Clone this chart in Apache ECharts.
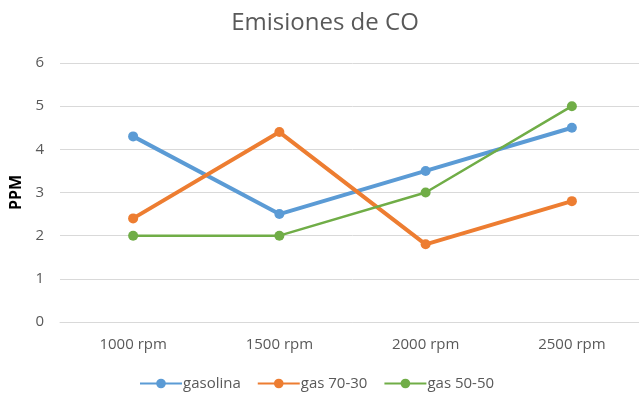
<!DOCTYPE html>
<html><head><meta charset="utf-8">
<script src="https://cdn.jsdelivr.net/npm/echarts@6/dist/echarts.min.js"></script>
<style>html,body{margin:0;padding:0;background:#fff;overflow:hidden;width:639px;height:394px}#c{width:650px;height:394px}</style>
</head><body><div id="c"></div>
<script>
const categories = ['1000 rpm', '1500 rpm', '2000 rpm', '2500 rpm'];
const gasolina = [4.3, 2.5, 3.5, 4.5];
const gas7030 = [2.4, 4.4, 1.8, 2.8];
const gas5050 = [2.0, 2.0, 3.0, 5.0];
const seriesNames = ['gasolina', 'gas 70-30', 'gas 50-50'];

const chart = echarts.init(document.getElementById('c'));
const font = 'Open Sans, Noto Sans, sans-serif';
function mk(name, data, color, w) {
  return {
    name, type: 'line', data, symbol: 'circle', symbolSize: 10,
    lineStyle: { color, width: w }, itemStyle: { color },
    emphasis: { disabled: true }, animation: false
  };
}
chart.setOption({
  animation: false,
  title: {
    text: 'Emisiones de CO', left: 'center', top: 6,
    textStyle: { fontFamily: font, fontSize: 24, fontWeight: 'normal', color: '#595959' }
  },
  legend: {
    bottom: -2, left: 134, itemWidth: 42, itemHeight: 12, itemGap: 16,
    textStyle: { fontFamily: font, fontSize: 15, color: '#595959', padding: [0, 0, 0, -4] },
    data: seriesNames
  },
  grid: { left: 60, top: 63, right: 5, height: 259 },
  xAxis: {
    type: 'category', data: categories, boundaryGap: true,
    axisLine: { lineStyle: { color: '#d9d9d9' } }, axisTick: { show: false },
    axisLabel: { fontFamily: font, fontSize: 15, color: '#595959', margin: 15 }
  },
  yAxis: {
    type: 'value', min: 0, max: 6, interval: 1,
    name: 'PPM', nameLocation: 'middle', nameGap: 33, nameRotate: 90,
    nameTextStyle: { fontFamily: font, fontSize: 16, fontWeight: 'bold', color: '#000' },
    axisLine: { show: false }, axisTick: { show: false },
    axisLabel: { fontFamily: font, fontSize: 15, color: '#595959', margin: 16 },
    splitLine: { lineStyle: { color: '#d9d9d9', width: 1 } }
  },
  series: [
    mk(seriesNames[0], gasolina, '#5B9BD5', 4),
    mk(seriesNames[1], gas7030, '#ED7D31', 4),
    mk(seriesNames[2], gas5050, '#70AD47', 2.5)
  ]
});
</script></body></html>
